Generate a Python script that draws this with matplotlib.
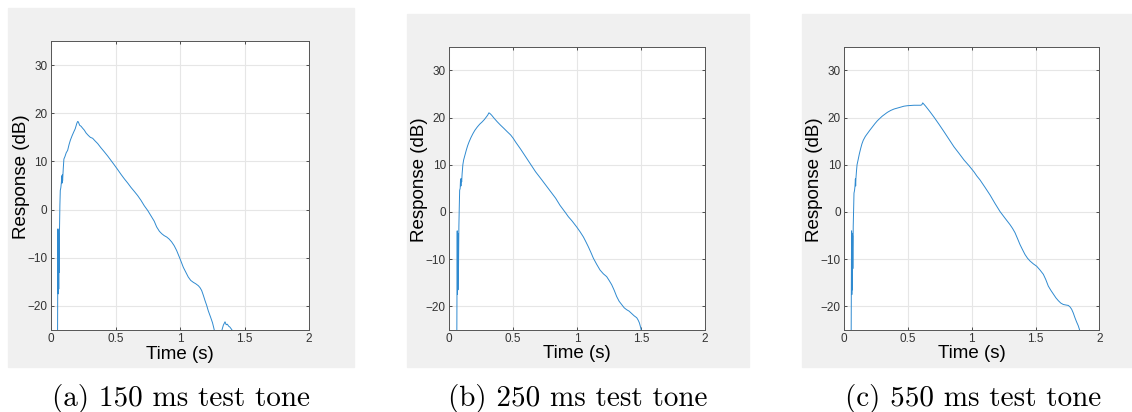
import matplotlib
matplotlib.use('Agg')
import matplotlib.pyplot as plt
from matplotlib.patches import Rectangle

# response curves (time in s, response in dB)
t_a = [0.049, 0.052, 0.054, 0.056, 0.058, 0.060, 0.062, 0.064, 0.066, 0.069, 0.072, 0.076, 0.080,
       0.084, 0.086, 0.088, 0.090, 0.095, 0.100, 0.108, 0.118, 0.129, 0.140, 0.150, 0.163, 0.176,
       0.188, 0.200, 0.207, 0.212, 0.222, 0.233, 0.245, 0.258, 0.272, 0.289, 0.305, 0.323, 0.340,
       0.362, 0.385, 0.413, 0.440, 0.465, 0.490, 0.517, 0.543, 0.568, 0.595, 0.620, 0.645, 0.672,
       0.698, 0.723, 0.750, 0.775, 0.800, 0.819, 0.840, 0.858, 0.877, 0.897, 0.915, 0.935, 0.955,
       0.974, 1.000, 1.013, 1.026, 1.045, 1.064, 1.083, 1.103, 1.122, 1.142, 1.155, 1.168, 1.181,
       1.194, 1.207, 1.219, 1.238, 1.252, 1.264, 1.290, 1.323, 1.336, 1.349, 1.358, 1.367, 1.377,
       1.387, 1.398, 1.408, 1.420]
db_a = [-40, -17.5, -4, -17.5, -4.5, -16.5, -5, -13, -4, 1, 4, 4.5, 5.5,
        7, 5.5, 7.2, 6, 8.5, 10.5, 11, 11.8, 12.3, 13.5, 14.4, 15.3, 16.1,
        16.8, 17.9, 18.3, 18.2, 17.5, 17.3, 16.9, 16.5, 15.9, 15.4, 15.0, 14.8, 14.3,
        13.7, 12.9, 12.0, 11.1, 10.2, 9.3, 8.3, 7.3, 6.4, 5.5, 4.6, 3.8, 2.9,
        1.9, 0.8, -0.2, -1.3, -2.4, -3.6, -4.5, -5.0, -5.4, -5.7, -6.1, -6.7, -7.5,
        -8.5, -10.2, -11.1, -12.0, -13.0, -14.0, -14.7, -15.1, -15.4, -15.8, -16.2, -16.8, -17.8,
        -18.9, -19.9, -21.0, -22.4, -23.5, -24.8, -28, -25.2, -24.0, -23.3, -23.9, -23.8, -24.2,
        -24.4, -24.8, -25.2, -30]

t_b = [0.057, 0.060, 0.062, 0.064, 0.066, 0.068, 0.070, 0.072, 0.075, 0.078, 0.081, 0.085, 0.088,
       0.091, 0.094, 0.097, 0.100, 0.106, 0.112, 0.122, 0.133, 0.143, 0.154, 0.170, 0.185, 0.200,
       0.219, 0.238, 0.258, 0.275, 0.289, 0.300, 0.310, 0.320, 0.331, 0.352, 0.375, 0.400, 0.427,
       0.453, 0.480, 0.500, 0.519, 0.558, 0.597, 0.636, 0.675, 0.715, 0.754, 0.793, 0.832, 0.866,
       0.910, 0.931, 0.960, 0.997, 1.023, 1.049, 1.068, 1.088, 1.108, 1.127, 1.153, 1.179, 1.205,
       1.231, 1.250, 1.270, 1.290, 1.309, 1.328, 1.348, 1.368, 1.387, 1.406, 1.426, 1.446, 1.466,
       1.477, 1.487, 1.500, 1.510]
db_b = [-40, -17.5, -4, -17.5, -4.5, -16.5, -5, -12, -3, 1, 4.6, 5, 7,
        5.5, 7, 6.4, 8, 10, 11, 12, 13.1, 14, 14.8, 15.8, 16.6, 17.3,
        18.0, 18.6, 19.1, 19.6, 20.1, 20.5, 21.0, 20.8, 20.5, 19.8, 19.1, 18.4, 17.7,
        17.0, 16.3, 15.6, 14.8, 13.3, 11.7, 10.1, 8.5, 7.1, 5.7, 4.3, 2.9, 1.4,
        -0.2, -1.0, -1.9, -3.2, -4.2, -5.3, -6.3, -7.4, -8.6, -9.8, -11.1, -12.3, -13.1,
        -13.7, -14.5, -15.4, -16.6, -17.9, -18.9, -19.6, -20.3, -20.7, -21.0, -21.5, -22.0, -22.4,
        -22.9, -23.5, -24.8, -30]

t_c = [0.052, 0.055, 0.057, 0.059, 0.061, 0.063, 0.065, 0.067, 0.070, 0.073, 0.076, 0.080, 0.084,
       0.087, 0.089, 0.091, 0.095, 0.100, 0.108, 0.118, 0.128, 0.138, 0.149, 0.165, 0.181, 0.200,
       0.220, 0.240, 0.259, 0.278, 0.298, 0.318, 0.338, 0.364, 0.390, 0.416, 0.442, 0.468, 0.494,
       0.520, 0.547, 0.573, 0.599, 0.608, 0.615, 0.625, 0.638, 0.670, 0.703, 0.742, 0.782, 0.821,
       0.860, 0.900, 0.939, 0.978, 1.017, 1.040, 1.064, 1.104, 1.143, 1.182, 1.221, 1.260, 1.300,
       1.320, 1.339, 1.358, 1.378, 1.398, 1.417, 1.437, 1.457, 1.483, 1.509, 1.535, 1.561, 1.580,
       1.600, 1.620, 1.640, 1.660, 1.679, 1.698, 1.718, 1.737, 1.757, 1.770, 1.783, 1.796, 1.809,
       1.822, 1.835, 1.848, 1.860]
db_c = [-40, -17.5, -4, -17.5, -4.5, -16.5, -5, -12, -3, 0.4, 4, 4.5, 5.5,
        7, 5.5, 7, 8.5, 10, 11, 12.3, 13.4, 14.4, 15.2, 16.0, 16.6, 17.3,
        18.0, 18.7, 19.3, 19.8, 20.3, 20.7, 21.1, 21.5, 21.8, 22.0, 22.2, 22.4, 22.5,
        22.55, 22.6, 22.6, 22.6, 22.7, 23.1, 22.8, 22.4, 21.3, 20.1, 18.6, 17.0, 15.4,
        13.8, 12.4, 11.0, 9.8, 8.5, 7.6, 6.8, 5.2, 3.6, 1.8, 0.1, -1.3, -2.7,
        -3.5, -4.4, -5.6, -6.9, -8.0, -9.0, -9.8, -10.4, -11.0, -11.5, -12.3, -13.2, -14.3,
        -15.7, -16.6, -17.4, -18.2, -18.8, -19.3, -19.6, -19.7, -19.8, -20.1, -20.6, -21.4, -22.4,
        -23.3, -24.1, -25.2, -30]

captions = ['(a) 150 ms test tone', '(b) 250 ms test tone', '(c) 550 ms test tone']
xticks = [0, 0.5, 1, 1.5, 2]
xticklabels = ['0', '0.5', '1', '1.5', '2']
yticks = [-20, -10, 0, 10, 20, 30]

W, H = 1132, 412
fig = plt.figure(figsize=(W / 100, H / 100), dpi=100)

# grey panel backgrounds (pixels: x0, y0, x1, y1)
panels = [(8, 8, 354, 367), (407, 14, 749, 367), (802, 14, 1132, 367)]
for x0, y0, x1, y1 in panels:
    fig.patches.append(Rectangle((x0 / W, 1 - y1 / H), (x1 - x0) / W, (y1 - y0) / H,
                                 transform=fig.transFigure, color='#f0f0f0', zorder=-5))

# axes boxes in pixels: left, top, right, bottom
boxes = [(51, 41, 309, 330), (449.3, 46.7, 705, 330), (844.3, 46.7, 1099.3, 330)]
caption_x = [181, 578, 973]
series = [(t_a, db_a), (t_b, db_b), (t_c, db_c)]

ink = '#333333'
for (l, t, r, b), (x, y), cap, cx in zip(boxes, series, captions, caption_x):
    ax = fig.add_axes([l / W, 1 - b / H, (r - l) / W, (b - t) / H])
    ax.set_facecolor('white')
    ax.plot(x, y, color='#2f8ad0', lw=0.7)
    ax.set_xlim(0, 2)
    ax.set_ylim(-25, 35)
    ax.set_xticks(xticks)
    ax.set_xticklabels(xticklabels)
    ax.set_yticks(yticks)
    ax.grid(True, color='#e6e6e6', lw=0.8)
    ax.set_axisbelow(True)
    ax.tick_params(direction='in', length=2.5, width=0.6, colors=ink, labelsize=8.5,
                   top=True, right=True, pad=2.5)
    for lab in ax.get_xticklabels() + ax.get_yticklabels():
        lab.set_fontfamily('Liberation Sans')
    for s in ax.spines.values():
        s.set_color('#555555')
        s.set_linewidth(0.7)
    ax.set_xlabel('Time (s)', fontsize=13.5, family='Liberation Sans', va='center')
    ax.xaxis.set_label_coords(0.5, -0.084)
    ax.set_ylabel('Response (dB)', fontsize=13.5, family='Liberation Sans', va='center')
    ax.yaxis.set_label_coords(-0.115, 0.53)
    fig.text(cx / W, 1 - 406 / H, cap, ha='center', va='baseline', fontsize=21,
             family='cmr10')

fig.savefig('out.png', dpi=100, facecolor='white')
